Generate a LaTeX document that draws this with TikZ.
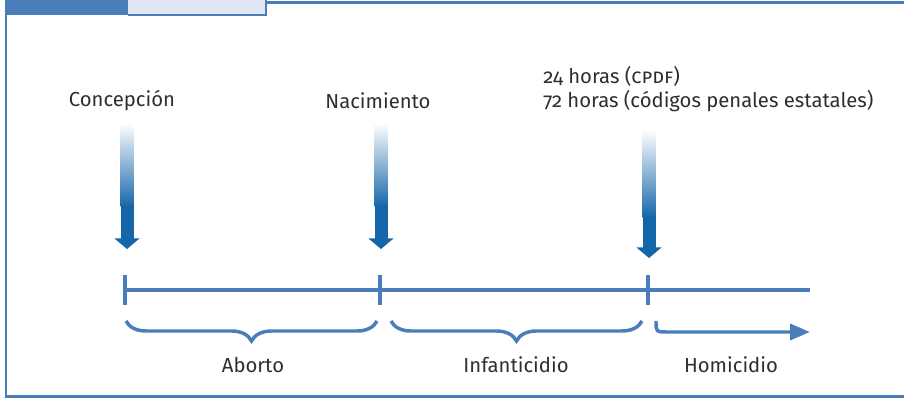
\documentclass[tikz,border=0pt]{standalone}
\usepackage{fontspec}
\setmainfont{Fira Sans}[Numbers=OldStyle]
\usetikzlibrary{arrows.meta,decorations.pathreplacing}
\definecolor{lineblue}{HTML}{4A7EBB}
\definecolor{arrowblue}{HTML}{1566A9}
\definecolor{tabblue}{HTML}{E0E6F4}
\tikzset{
  txt/.style={font=\fontsize{15.2}{18}\selectfont, text=black!82, inner sep=0pt},
  axis/.style={lineblue, line width=2.6pt},
  bracebelow/.style={lineblue, line width=2.6pt, decorate,
    decoration={brace, mirror, amplitude=15pt}},
  frameline/.style={lineblue, line width=2.1pt}
}

\begin{document}
\begin{tikzpicture}[x=0.75pt, y=-0.75pt]
  \useasboundingbox (0,0) rectangle (904,398);
  % frame and tab
  \fill[lineblue] (5,0) rectangle (128,15.5);
  \fill[tabblue] (128,0) rectangle (266,14);
  \draw[frameline] (128,15) -- (266,15) -- (266,0);
  \draw[frameline] (266,2.5) -- (904,2.5);
  \draw[frameline] (6,15) -- (6,396.5) -- (904,396.5);

  % labels
  \node (concep) at (122,101) [txt] {Concepción};
  \node (nacim) at (378,101) [txt] {Nacimiento};
  \node (horas) at (543,89) [txt,anchor=west,align=left]
    {24 horas (\textsc{cpdf})\\72 horas (códigos penales estatales)};

  % timeline
  \coordinate (t1) at (125,290);
  \coordinate (t2) at (380,290);
  \coordinate (t3) at (648,290);
  \coordinate (tend) at (810,290);
  \draw[axis] (t1) -- (tend);
  \foreach \x in {125,380,648}
    \draw[axis] (\x,275) -- (\x,305);

  % gradient arrows
  \foreach \x/\ytop/\ymid/\ytip in {127/123/207/249, 381/123/207/249, 649/130/218/258} {
    \shade[top color=white, bottom color=arrowblue]
      (\x-6.5,\ytop) rectangle (\x+6.5,\ymid);
    \fill[arrowblue] (\x-6.5,\ymid-0.5) rectangle (\x+6.5,\ytip-10);
    \fill[arrowblue] (\x-12.5,\ytip-10.5) -- (\x+12.5,\ytip-10.5) -- (\x,\ytip) -- cycle;
  }

  % periods
  \coordinate (b1) at (126,321);
  \coordinate (b2) at (377,321);
  \coordinate (b3) at (391,321);
  \coordinate (b4) at (642,321);
  \coordinate (h0) at (656,321);
  \coordinate (h1) at (668,332);
  \coordinate (hend) at (810,332);
  \draw[bracebelow] (b1) -- (b2);
  \draw[bracebelow] (b3) -- (b4);
  \draw[axis, -{Triangle[length=15pt, width=12pt]}]
    (h0) .. controls (656,332) .. (h1) -- (hend);

  \node (aborto) at (253,365) [txt] {Aborto};
  \node (infant) at (516,365) [txt] {Infanticidio};
  \node (homic) at (731,365) [txt] {Homicidio};
\end{tikzpicture}
\end{document}
